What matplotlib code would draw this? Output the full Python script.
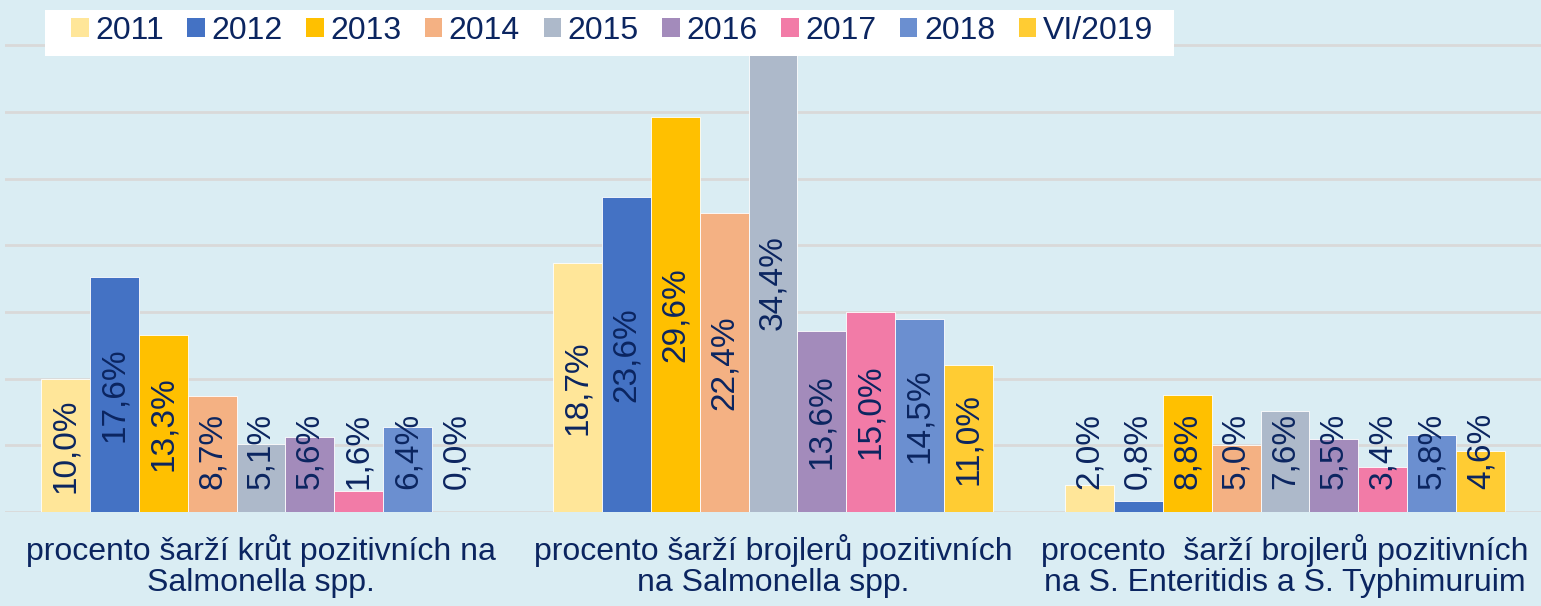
"""
Salmonella positivity by flock type, 2011 - VI/2019 (grouped bars).
"""

import matplotlib
matplotlib.use("Agg")
import matplotlib.pyplot as plt
from matplotlib.patches import Rectangle, Patch
import numpy as np

W, H = 1541, 606

categories = [
    "procento šarží krůt pozitivních na\nSalmonella spp.",
    "procento šarží brojlerů pozitivních\nna Salmonella spp.",
    "procento  šarží brojlerů pozitivních\nna S. Enteritidis a S. Typhimuruim",
]
years = ["2011", "2012", "2013", "2014", "2015", "2016", "2017", "2018", "VI/2019"]

# values per year, in category order (krůty, brojleři, brojleři SE/ST)
v2011 = [10.0, 18.7, 2.0]
v2012 = [17.6, 23.6, 0.8]
v2013 = [13.3, 29.6, 8.8]
v2014 = [8.7, 22.4, 5.0]
v2015 = [5.1, 34.4, 7.6]
v2016 = [5.6, 13.6, 5.5]
v2017 = [1.6, 15.0, 3.4]
v2018 = [6.4, 14.5, 5.8]
v2019 = [0.0, 11.0, 4.6]
series = [v2011, v2012, v2013, v2014, v2015, v2016, v2017, v2018, v2019]

colors = ["#FFE699", "#4472C4", "#FFC000", "#F4B183", "#ADB9CA",
          "#A38BBB", "#F27BA7", "#6B8FD0", "#FFCC33"]
BG = "#DAEDF3"
TXT = "#0B2560"

plt.rcParams["font.family"] = ["Liberation Sans", "DejaVu Sans"]

fig = plt.figure(figsize=(W / 100, H / 100), dpi=100, facecolor=BG)
ax = fig.add_axes([5 / W, 94 / H, 1 - 5 / W, 1 - 94 / H])
ax.set_facecolor(BG)

x = np.arange(len(categories))
bw = 0.0957
n = len(series)
for i, (vals, col) in enumerate(zip(series, colors)):
    xs = x + (i - (n - 1) / 2) * bw
    ax.bar(xs, vals, width=bw, color=col, edgecolor="white", linewidth=0.6, zorder=2)
    for xi, v in zip(xs, vals):
        label = f"{v:.1f}%".replace(".", ",")
        ax.text(xi, max(v / 2, 4.6), label, rotation=90, ha="center", va="center",
                fontsize=24, color=TXT, zorder=3)

ax.set_xlim(-0.5, 2.5)
ax.set_ylim(0, 38.4)
ax.set_yticks(np.arange(0, 36, 5))
ax.yaxis.grid(True, color="#D9D9D9", linewidth=2, zorder=0)
ax.tick_params(axis="y", left=False, labelleft=False)
ax.tick_params(axis="x", length=0, pad=16)
ax.set_xticks(x)
ax.set_xticklabels(categories, fontsize=23, color=TXT, linespacing=1.05)
for s in ax.spines.values():
    s.set_visible(False)

# white legend box
fig.patches.append(Rectangle((45 / W, 1 - 56 / H), (1174 - 45) / W, 46 / H,
                             transform=fig.transFigure, facecolor="white",
                             edgecolor="none", zorder=5))
handles = [Patch(facecolor=c, edgecolor="none") for c in colors]
leg = fig.legend(handles, years, loc="center left", bbox_to_anchor=(71 / W, 1 - 31 / H),
                 ncol=9, frameon=False, fontsize=23, borderpad=0, borderaxespad=0,
                 handlelength=0.55, handleheight=0.55, handletextpad=0.2,
                 columnspacing=0.74)
leg.set_zorder(6)
for t in leg.get_texts():
    t.set_color(TXT)

fig.savefig("out.png", dpi=100, facecolor=BG)
